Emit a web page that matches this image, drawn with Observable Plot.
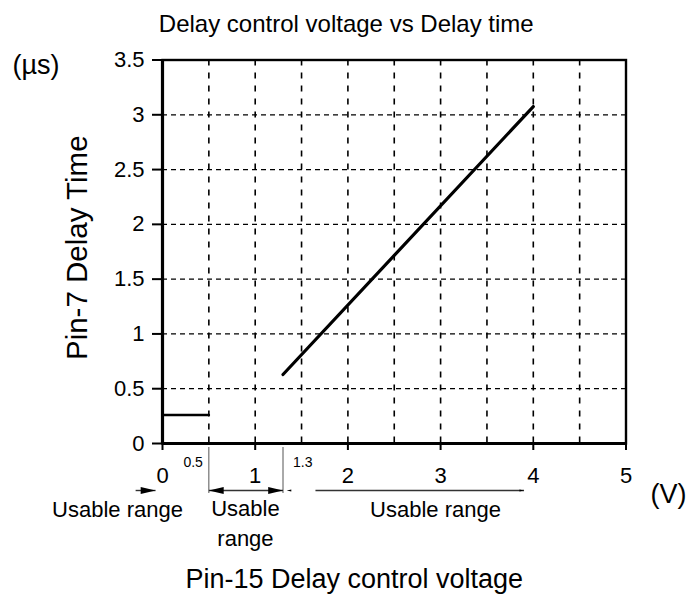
<!DOCTYPE html>
<html>
<head>
<meta charset="utf-8">
<script src="https://cdn.jsdelivr.net/npm/d3@7"></script>
<script src="https://cdn.jsdelivr.net/npm/@observablehq/plot@0.6"></script>
<style>
  html, body { margin: 0; padding: 0; background: white; }
  svg { display: block; }
</style>
</head>
<body>
<div id="chart"></div>
<script>
// ---- data ----
const title = "Delay control voltage vs Delay time";
const xLabel = "Pin-15 Delay control voltage";
const yLabel = "Pin-7 Delay Time";
const xUnit = "(V)";
const yUnit = "(µs)";
const xTicks = [0, 1, 2, 3, 4, 5];
const yTicks = [0, 0.5, 1, 1.5, 2, 2.5, 3, 3.5];
const gridX = [0.5, 1, 1.5, 2, 2.5, 3, 3.5, 4, 4.5];
const gridY = [0.5, 1, 1.5, 2, 2.5, 3];
// main characteristic (voltage V, delay µs)
const lineVoltage = [1.3, 4.0];
const lineDelay = [0.63, 3.075];
// fixed delay below 0.5 V
const flatVoltage = [0, 0.5];
const flatDelay = [0.26, 0.26];
// boundary markers
const markerValues = [0.5, 1.3];
const markerLabels = ["0.5", "1.3"];
// usable range arrows (voltage)
const arrowStarts = [-0.29, 0.5, 1.65];
const arrowEnds = [-0.075, 1.3, 3.9];
const bigHeadAt = [-0.075, 0.5, 1.3];
const bigHeadDir = [0, 180, 0];
const smallHeadAt = [1.34, 3.9];
const smallHeadDir = [180, 0];
const rangeLabels = ["Usable range", "Usable range"];
const rangeCenters = [-0.485, 2.945];
const middleRangeLabel = "Usable\nrange";
const middleRangeCenter = [0.895];

// ---- custom arrowhead symbol: tip at origin, pointing right ----
const headSymbol = {
  draw(ctx, size) {
    const r = Math.sqrt(size / Math.PI);
    const L = 3.3 * r, H = 0.8 * r;
    ctx.moveTo(0, 0);
    ctx.lineTo(-L, -H);
    ctx.lineTo(-L, H);
    ctx.closePath();
  }
};

const lineData = lineVoltage.map((v, i) => ({v, t: lineDelay[i]}));
const flatData = flatVoltage.map((v, i) => ({v, t: flatDelay[i]}));
const arrows = arrowStarts.map((s, i) => ({s, e: arrowEnds[i]}));
const bigHeads = bigHeadAt.map((v, i) => ({v, r: bigHeadDir[i]}));
const smallHeads = smallHeadAt.map((v, i) => ({v, r: smallHeadDir[i]}));
const markers = markerValues.map((v, i) => ({v, label: markerLabels[i]}));
const ranges = rangeLabels.map((label, i) => ({label, v: rangeCenters[i]}));

const font = "'Liberation Sans', Arial, Helvetica, sans-serif";
const ink = "#000";
const arrowInk = "#333";

const plot = Plot.plot({
  width: 690,
  height: 596,
  marginLeft: 162,
  marginRight: 64.5,
  marginTop: 59.5,
  marginBottom: 153,
  x: {domain: [0, 5], axis: null},
  y: {domain: [0, 3.5], axis: null},
  style: {fontFamily: font, fontSize: "20px", color: ink, background: "white", overflow: "visible"},
  marks: [
    // dashed grid
    Plot.ruleX(gridX, {stroke: ink, strokeWidth: 1.6, strokeDasharray: "6,7"}),
    Plot.ruleY(gridY, {stroke: ink, strokeWidth: 1.3, strokeDasharray: "5,4"}),
    Plot.frame({stroke: ink, strokeWidth: 2.4}),
    Plot.ruleX([0], {stroke: ink, strokeWidth: 3.2}),
    Plot.ruleY([0], {stroke: ink, strokeWidth: 3.2}),
    // tick marks
    Plot.ruleY(yTicks, {x1: 0, x2: 0, insetLeft: -10, stroke: ink, strokeWidth: 2}),
    Plot.ruleX(xTicks, {y1: 0, y2: 0, insetBottom: -7, stroke: ink, strokeWidth: 2}),
    // tick labels
    Plot.text(yTicks, {x: 0, y: d => d, text: d => String(d), dx: -18, textAnchor: "end", fontSize: 22}),
    Plot.text(xTicks, {x: d => d, y: 0, text: d => String(d), dy: 39, lineAnchor: "bottom", fontSize: 22}),
    // data
    Plot.line(flatData, {x: "v", y: "t", stroke: ink, strokeWidth: 2.6}),
    Plot.line(lineData, {x: "v", y: "t", stroke: ink, strokeWidth: 3.2}),
    // boundary markers below axis
    Plot.ruleX(markers, {x: "v", y1: 0, y2: 0, insetTop: 4, insetBottom: -50, stroke: "#555", strokeWidth: 1}),
    Plot.text(markers.slice(0, 1), {x: "v", y: 0, text: "label", dx: -6, dy: 23, textAnchor: "end", lineAnchor: "bottom", fontSize: 14}),
    Plot.text(markers.slice(1), {x: "v", y: 0, text: "label", dx: 10, dy: 23, textAnchor: "start", lineAnchor: "bottom", fontSize: 14}),
    // usable range arrows
    Plot.link(arrows, {x1: "s", x2: "e", y1: 0, y2: 0, dy: 47, stroke: arrowInk, strokeWidth: 1.4}),
    Plot.dot(bigHeads, {x: "v", y: 0, dy: 47, rotate: "r", r: 4.5, symbol: headSymbol, fill: ink, stroke: "none"}),
    Plot.dot(smallHeads, {x: "v", y: 0, dy: 47, rotate: "r", r: 1.4, symbol: headSymbol, fill: ink, stroke: "none"}),
    Plot.text(ranges, {x: "v", y: 0, text: "label", dy: 73, lineAnchor: "bottom", fontSize: 22}),
    Plot.text(middleRangeCenter, {x: d => d, y: 0, text: () => middleRangeLabel, dy: 102, lineAnchor: "bottom", lineHeight: 1.32, fontSize: 22}),
    // titles and units
    Plot.text([title], {frameAnchor: "top", dx: -48, dy: -28.5, lineAnchor: "bottom", fontSize: 24}),
    Plot.text([xLabel], {frameAnchor: "bottom", dx: -40, dy: 144, lineAnchor: "bottom", fontSize: 27}),
    Plot.text([xUnit], {frameAnchor: "bottom-right", dx: 42.5, dy: 59, lineAnchor: "bottom", textAnchor: "middle", fontSize: 27}),
    Plot.text([yUnit], {frameAnchor: "top-left", dx: -126.5, dy: 13.5, lineAnchor: "bottom", textAnchor: "middle", fontSize: 27}),
    Plot.text([yLabel], {frameAnchor: "left", dx: -76, dy: -4, rotate: -90, lineAnchor: "bottom", textAnchor: "middle", fontSize: 29.5})
  ]
});

document.getElementById("chart").appendChild(plot);
</script>
</body>
</html>
